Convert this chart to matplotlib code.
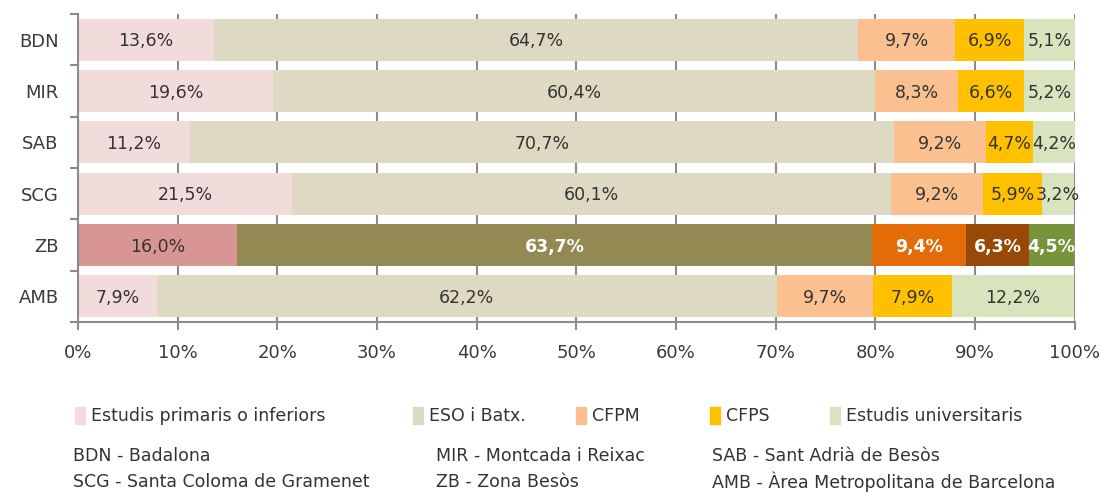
import matplotlib.pyplot as plt
import numpy as np

plt.rcParams['font.family'] = ['DejaVu Sans']

zones = ['BDN', 'MIR', 'SAB', 'SCG', 'ZB', 'AMB']
levels = ['Estudis primaris o inferiors', 'ESO i Batx.', 'CFPM', 'CFPS', 'Estudis universitaris']
primaris = [13.6, 19.6, 11.2, 21.5, 16.0, 7.9]
eso = [64.7, 60.4, 70.7, 60.1, 63.7, 62.2]
cfpm = [9.7, 8.3, 9.2, 9.2, 9.4, 9.7]
cfps = [6.9, 6.6, 4.7, 5.9, 6.3, 7.9]
univ = [5.1, 5.2, 4.2, 3.2, 4.5, 12.2]
notes = [['BDN - Badalona', 'MIR - Montcada i Reixac', 'SAB - Sant Adrià de Besòs'],
         ['SCG - Santa Coloma de Gramenet', 'ZB - Zona Besòs', 'AMB - Àrea Metropolitana de Barcelona']]

colors = ['#F2DCDB', '#DDD9C3', '#FAC090', '#FFC000', '#D7E4BD']
zb_colors = ['#D99594', '#938953', '#E36C09', '#984807', '#77933C']

series = [primaris, eso, cfpm, cfps, univ]

fig = plt.figure(figsize=(11, 4.92), dpi=100)
ax = fig.add_axes([0.0709, 0.3455, 0.9061, 0.626])

y = np.arange(len(zones))
left = np.zeros(len(zones))
for k, vals in enumerate(series):
    vals = np.array(vals)
    cols = [zb_colors[k] if z == 'ZB' else colors[k] for z in zones]
    ax.barh(y, vals, left=left, height=0.82, color=cols, zorder=2)
    for i, v in enumerate(vals):
        zb = zones[i] == 'ZB' and k > 0
        ax.text(left[i] + v / 2, y[i] + 0.03, f'{v:.1f}%'.replace('.', ','),
                ha='center', va='center', fontsize=12.5,
                color='white' if zb else '#333333',
                fontweight='bold' if zb else 'normal', zorder=3)
    left += vals

ax.set_xlim(0, 100)
ax.set_ylim(len(zones) - 0.5, -0.5)
ax.set_xticks(np.arange(0, 101, 10))
ax.set_xticklabels([f'{t}%' for t in range(0, 101, 10)], fontsize=13, color='#3a3a3a')
ax.set_yticks(y)
ax.set_yticklabels(zones, fontsize=13, color='#3a3a3a')
ax.set_yticks(np.arange(-0.5, len(zones), 1), minor=True)
ax.tick_params(axis='y', which='major', length=0, pad=22)
ax.tick_params(axis='y', which='minor', length=6, width=1.5, color='#8c8c8c')
ax.tick_params(axis='x', length=6, width=1.5, color='#8c8c8c', pad=10)
ax.grid(axis='x', color='#8c8c8c', linewidth=1.5, zorder=0)
for s in ['top', 'right']:
    ax.spines[s].set_visible(False)
for s in ['left', 'bottom']:
    ax.spines[s].set_color('#8c8c8c')
    ax.spines[s].set_linewidth(1.5)
ax.yaxis.set_tick_params(pad=14)

# one legend per entry so the squares sit where the reference has them
leg_x = [75, 413, 576, 710, 830]
for c, lab, lx in zip(colors, levels, leg_x):
    leg = fig.legend([plt.Rectangle((0, 0), 1, 1, color=c)], [lab], loc='center left',
                     bbox_to_anchor=(lx / 1100, 1 - 416 / 492), frameon=False,
                     fontsize=12.5, handlelength=0.6, handleheight=1.1,
                     handletextpad=0.3, borderaxespad=0, borderpad=0,
                     labelcolor='#333333')

xs = [73, 436, 712]
rows_y = [456, 482]
for r, row in enumerate(notes):
    for c, txt in enumerate(row):
        fig.text(xs[c] / 1100, 1 - rows_y[r] / 492, txt, fontsize=12.5,
                 color='#333333', va='center')

fig.savefig('out.png', dpi=100)
